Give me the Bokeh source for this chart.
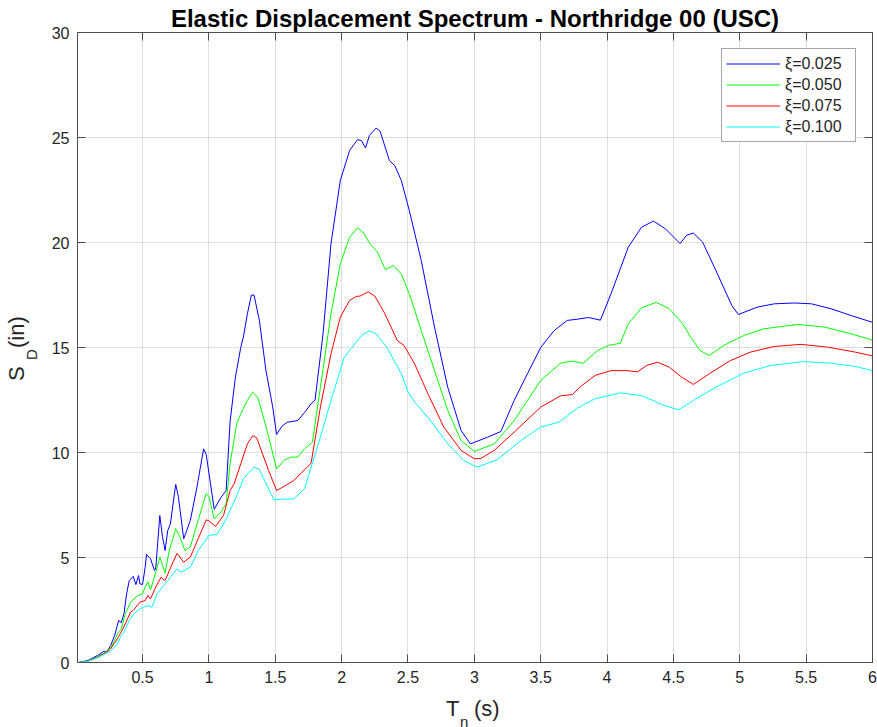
from bokeh.plotting import figure
from bokeh.models import (Range1d, FixedTicker, LinearAxis, NumeralTickFormatter, CustomJSTickFormatter, Div)
from bokeh.layouts import column, row
from bokeh.embed import file_html
from bokeh.resources import INLINE

# ---- data ----
t_025 = [0.02, 0.09, 0.16, 0.21, 0.23, 0.26, 0.29, 0.32, 0.34, 0.36, 0.38, 0.40, 0.43, 0.45, 0.47, 0.48,
         0.50, 0.52, 0.53, 0.56, 0.59, 0.60, 0.63, 0.65, 0.67, 0.69, 0.71, 0.75, 0.77, 0.81, 0.86, 0.91,
         0.96, 0.98, 1.04, 1.09, 1.13, 1.16, 1.20, 1.24, 1.26, 1.29, 1.32, 1.34, 1.38, 1.43, 1.48, 1.51,
         1.55, 1.59, 1.67, 1.72, 1.77, 1.80, 1.86, 1.92, 1.99, 2.06, 2.12, 2.15, 2.18, 2.21, 2.26, 2.29,
         2.36, 2.40, 2.45, 2.51, 2.60, 2.70, 2.80, 2.90, 2.97, 3.10, 3.20, 3.30, 3.40, 3.50, 3.60, 3.70,
         3.78, 3.86, 3.95, 4.03, 4.16, 4.26, 4.35, 4.44, 4.55, 4.60, 4.65, 4.72, 4.82, 4.94, 4.99, 5.13,
         5.26, 5.41, 5.54, 5.69, 5.84, 6.00]
sd_025 = [0.0, 0.10, 0.33, 0.54, 0.50, 0.81, 1.29, 2.00, 1.90, 2.32, 3.27, 3.90, 4.10, 3.71, 4.14, 3.74,
          3.72, 4.54, 5.14, 4.94, 4.38, 4.50, 7.00, 6.00, 5.33, 6.29, 6.60, 8.48, 7.90, 5.89, 6.76, 8.35,
          10.17, 9.90, 7.30, 7.85, 8.19, 11.50, 13.60, 15.00, 15.50, 16.60, 17.50, 17.50, 16.30, 13.90, 12.20, 10.86,
          11.25, 11.44, 11.52, 11.90, 12.32, 12.50, 15.65, 19.94, 22.95, 24.38, 24.90, 24.85, 24.50, 25.10, 25.45, 25.30,
          23.90, 23.67, 22.95, 21.52, 19.14, 15.97, 13.10, 11.05, 10.41, 10.73, 11.00, 12.48, 13.75, 15.00, 15.80, 16.29,
          16.35, 16.43, 16.30, 17.56, 19.78, 20.73, 21.02, 20.65, 19.95, 20.35, 20.45, 20.02, 18.67, 17.00, 16.57, 16.92,
          17.08, 17.12, 17.08, 16.84, 16.52, 16.20]

t_050 = [0.02, 0.09, 0.16, 0.21, 0.26, 0.29, 0.31, 0.34, 0.37, 0.41, 0.46, 0.50, 0.52, 0.54, 0.56, 0.60,
         0.63, 0.67, 0.70, 0.75, 0.78, 0.82, 0.86, 0.92, 0.98, 1.00, 1.04, 1.09, 1.13, 1.16, 1.21, 1.24,
         1.29, 1.33, 1.37, 1.44, 1.51, 1.57, 1.62, 1.67, 1.72, 1.78, 1.84, 1.92, 1.99, 2.06, 2.12, 2.16,
         2.21, 2.27, 2.33, 2.39, 2.45, 2.51, 2.60, 2.70, 2.80, 2.90, 3.00, 3.15, 3.30, 3.50, 3.65, 3.73,
         3.82, 3.93, 4.01, 4.10, 4.16, 4.26, 4.37, 4.47, 4.57, 4.63, 4.70, 4.77, 4.88, 5.03, 5.18, 5.44,
         5.64, 5.84, 6.00]
sd_050 = [0.0, 0.08, 0.28, 0.45, 0.70, 1.05, 1.37, 1.60, 2.32, 2.87, 3.17, 3.27, 3.60, 3.85, 3.46, 4.30,
          5.02, 4.25, 5.30, 6.37, 6.00, 5.33, 5.50, 6.80, 8.05, 7.90, 6.84, 7.16, 7.56, 9.50, 11.37, 11.84,
          12.48, 12.88, 12.60, 11.00, 9.22, 9.65, 9.78, 9.78, 10.17, 10.49, 13.10, 16.60, 18.98, 20.25, 20.70, 20.50,
          19.97, 19.54, 18.70, 18.90, 18.50, 17.56, 15.81, 13.90, 12.00, 10.57, 10.05, 10.41, 11.52, 13.43, 14.25, 14.35,
          14.25, 14.86, 15.10, 15.20, 16.13, 16.89, 17.15, 16.84, 16.13, 15.49, 14.86, 14.62, 15.10, 15.57, 15.89, 16.10,
          15.97, 15.65, 15.35]

t_075 = [0.02, 0.09, 0.16, 0.21, 0.26, 0.31, 0.36, 0.41, 0.43, 0.48, 0.52, 0.54, 0.56, 0.60, 0.64, 0.67,
         0.71, 0.76, 0.81, 0.86, 0.92, 0.98, 1.00, 1.05, 1.11, 1.16, 1.19, 1.24, 1.29, 1.33, 1.36, 1.45,
         1.51, 1.57, 1.64, 1.77, 1.84, 1.92, 1.99, 2.06, 2.11, 2.14, 2.20, 2.25, 2.32, 2.42, 2.47, 2.55,
         2.65, 2.77, 2.90, 3.00, 3.05, 3.15, 3.30, 3.50, 3.65, 3.74, 3.80, 3.91, 4.03, 4.15, 4.23, 4.30,
         4.38, 4.47, 4.56, 4.65, 4.77, 4.93, 5.08, 5.26, 5.46, 5.66, 5.87, 6.00]
sd_075 = [0.0, 0.07, 0.25, 0.42, 0.65, 1.13, 1.70, 2.40, 2.48, 2.87, 2.95, 3.19, 3.03, 3.60, 4.06, 3.90,
          4.50, 5.20, 4.78, 5.02, 5.90, 6.79, 6.75, 6.48, 7.00, 8.19, 8.51, 9.46, 10.41, 10.80, 10.70, 9.14,
          8.19, 8.40, 8.67, 9.49, 12.16, 14.70, 16.44, 17.24, 17.43, 17.45, 17.65, 17.45, 16.68, 15.33, 15.10, 14.22,
          12.80, 11.21, 10.10, 9.70, 9.72, 10.10, 10.97, 12.16, 12.70, 12.76, 13.14, 13.67, 13.90, 13.90, 13.84, 14.15,
          14.30, 14.06, 13.60, 13.24, 13.75, 14.38, 14.78, 15.05, 15.15, 15.02, 14.78, 14.60]

t_100 = [0.02, 0.09, 0.16, 0.21, 0.26, 0.29, 0.31, 0.34, 0.36, 0.40, 0.44, 0.48, 0.54, 0.57, 0.61, 0.65,
         0.69, 0.76, 0.79, 0.86, 0.92, 1.00, 1.06, 1.12, 1.21, 1.26, 1.34, 1.38, 1.44, 1.49, 1.56, 1.64,
         1.72, 1.77, 1.84, 1.92, 2.02, 2.07, 2.15, 2.21, 2.26, 2.34, 2.45, 2.50, 2.55, 2.65, 2.80, 2.92,
         3.02, 3.17, 3.35, 3.50, 3.64, 3.78, 3.91, 4.10, 4.26, 4.43, 4.54, 4.67, 4.82, 5.03, 5.23, 5.48,
         5.69, 5.87, 6.00]
sd_100 = [0.0, 0.06, 0.22, 0.38, 0.55, 0.73, 0.89, 1.29, 1.44, 2.00, 2.35, 2.56, 2.71, 2.63, 3.27, 3.60,
          3.90, 4.46, 4.30, 4.54, 5.33, 6.05, 6.10, 6.70, 7.95, 8.75, 9.30, 9.20, 8.40, 7.75, 7.78, 7.79,
          8.27, 9.30, 10.73, 12.48, 14.54, 14.94, 15.57, 15.80, 15.65, 15.02, 13.75, 12.90, 12.40, 11.68, 10.41, 9.62,
          9.30, 9.65, 10.57, 11.21, 11.45, 12.13, 12.56, 12.84, 12.71, 12.24, 12.03, 12.56, 13.11, 13.78, 14.14, 14.33,
          14.25, 14.10, 13.90]

series_labels = ["\u03be=0.025", "\u03be=0.050", "\u03be=0.075", "\u03be=0.100"]
series_colors = ["#0000ff", "#00ff00", "#ff0000", "#00ffff"]
x_ticks = [0.5, 1, 1.5, 2, 2.5, 3, 3.5, 4, 4.5, 5, 5.5, 6]
y_ticks = [0, 5, 10, 15, 20, 25, 30]
title_text = "Elastic Displacement Spectrum - Northridge 00 (USC)"

FONT = "Liberation Sans"
AX = "#4d4d4d"
TXT = "#262626"

YLAB_W = 40
ROW_H = 693

p = figure(width=877 - YLAB_W, height=ROW_H, output_backend="svg", toolbar_location=None,
           x_range=Range1d(0.01, 6), y_range=Range1d(0, 30),
           min_border_left=37, min_border_right=5, min_border_top=32, min_border_bottom=31,
           background_fill_color="white", border_fill_color="white", margin=0)
p.outline_line_color = AX
p.outline_line_width = 1

p.title.text = title_text
p.title.align = "center"
p.title.text_font = FONT
p.title.text_font_style = "bold"
p.title.text_font_size = "24px"
p.title.text_color = "black"
p.title.standoff = 2

series = [(t_025, sd_025), (t_050, sd_050), (t_075, sd_075), (t_100, sd_100)]
for (tx, sy), lab, col in zip(series, series_labels, series_colors):
    p.line(tx, sy, line_color=col, line_width=1, legend_label=lab)

def style_axis(ax, ticks, show_labels):
    ax.ticker = FixedTicker(ticks=ticks)
    ax.axis_line_color = AX
    ax.major_tick_line_color = AX
    ax.major_tick_in = 8
    ax.major_tick_out = 0
    ax.minor_tick_line_color = None
    ax.major_label_text_font = FONT
    ax.major_label_text_color = TXT
    if show_labels:
        ax.formatter = NumeralTickFormatter(format="0.[0]")
        ax.major_label_text_font_size = "16px"
        ax.major_label_standoff = 8
    else:
        ax.formatter = CustomJSTickFormatter(code="return ''")
        ax.major_label_text_font_size = "0px"
        ax.major_label_standoff = 0

style_axis(p.xaxis[0], x_ticks, True)
style_axis(p.yaxis[0], y_ticks, True)
top_ax = LinearAxis()
right_ax = LinearAxis()
style_axis(top_ax, x_ticks, False)
style_axis(right_ax, y_ticks, False)
p.add_layout(top_ax, "above")
p.add_layout(right_ax, "right")

p.xgrid.ticker = FixedTicker(ticks=x_ticks)
p.ygrid.ticker = FixedTicker(ticks=y_ticks)
for g in (p.xgrid[0], p.ygrid[0]):
    g.grid_line_color = "#262626"
    g.grid_line_alpha = 0.15

lg = p.legend[0]
lg.location = "top_right"
lg.margin = 16
lg.padding = 4
lg.spacing = 0
lg.glyph_width = 54
lg.glyph_height = 21
lg.label_height = 21
lg.label_width = 66
lg.label_standoff = 5
lg.label_text_font = FONT
lg.label_text_font_size = "16px"
lg.label_text_color = TXT
lg.border_line_color = AX
lg.border_line_width = 1
lg.background_fill_alpha = 1.0

# ---- axis labels with subscripts (HTML text) ----
span = ("position:absolute; white-space:nowrap; line-height:1; margin:0; padding:0; "
        "font-family:'Liberation Sans'; color:%s;" % TXT)
rot = " transform-origin:0 0; transform:rotate(-90deg);"

ylab_html = (
    '<div style="position:relative; width:%dpx; height:%dpx; overflow:visible;">' % (YLAB_W, ROW_H)
    + '<span style="%s font-size:22px; left:6px; top:381px;%s">S</span>' % (span, rot)
    + '<span style="%s font-size:15px; left:24px; top:360px;%s">D</span>' % (span, rot)
    + '<span style="%s font-size:22px; left:6px; top:348px;%s">(in)</span>' % (span, rot)
    + '</div>')
ylab = Div(text=ylab_html, width=YLAB_W, height=ROW_H, margin=0)

XL_H = 727 - ROW_H
xlab_html = (
    '<div style="position:relative; width:877px; height:%dpx; overflow:visible;">' % XL_H
    + '<span style="%s font-size:22px; left:446px; top:5px;">T</span>' % span
    + '<span style="%s font-size:15px; left:460px; top:21px;">n</span>' % span
    + '<span style="%s font-size:22px; left:474px; top:5px;">(s)</span>' % span
    + '</div>')
xlab = Div(text=xlab_html, width=877, height=XL_H, margin=0)

layout = column(row(ylab, p, spacing=0, margin=0), xlab, spacing=0, margin=0)

open("out.html", "w").write(file_html(layout, INLINE))
